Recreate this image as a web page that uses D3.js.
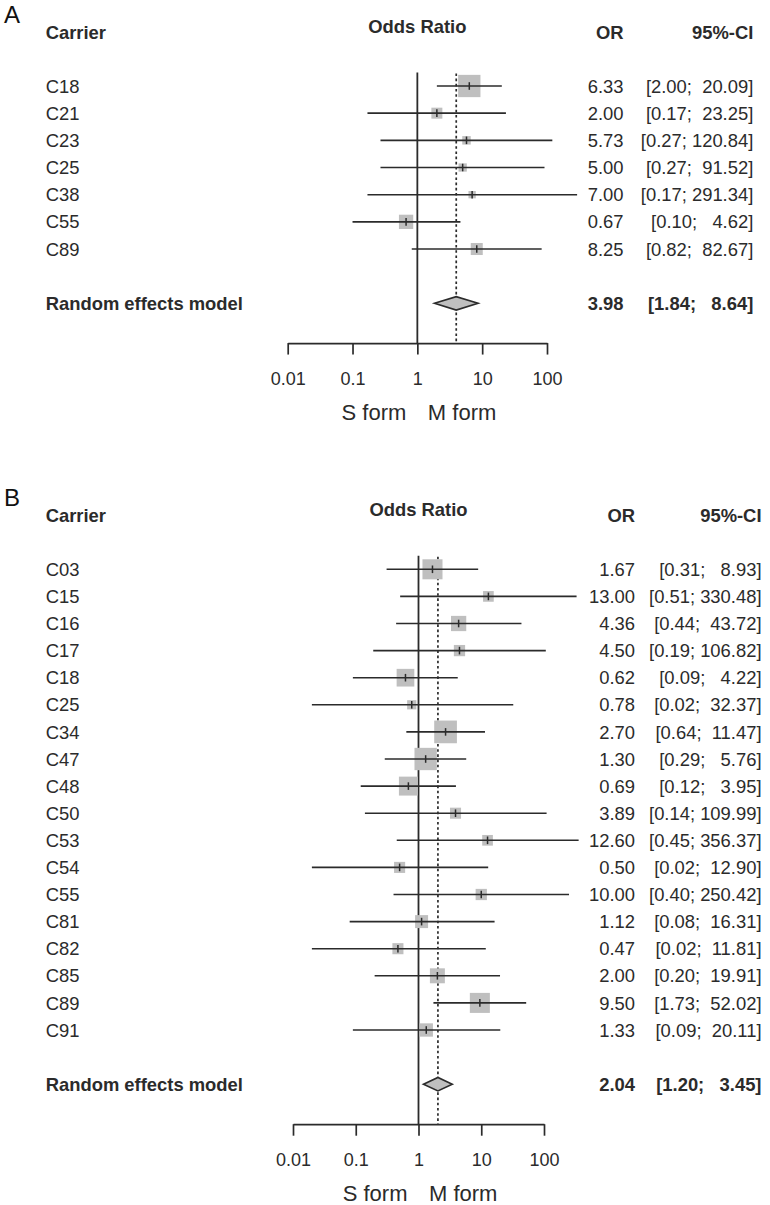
<!DOCTYPE html>
<html>
<head>
<meta charset="utf-8">
<script src="https://cdn.jsdelivr.net/npm/d3@7"></script>
<style>
  html, body { margin: 0; padding: 0; background: #fff; }
  svg { display: block; }
  text { font-family: "Liberation Sans", Arial, sans-serif; fill: #2b2b2b; white-space: pre; }
</style>
</head>
<body>
<svg id="chart" width="770" height="1205"></svg>
<script>
// ---------------- Data ----------------
const tickValues = [0.01, 0.1, 1, 10, 100];
const tickLabels = ["0.01", "0.1", "1", "10", "100"];

// Panel A
const carriersA = ["C18", "C21", "C23", "C25", "C38", "C55", "C89"];
const orA     = [6.33, 2.00, 5.73, 5.00, 7.00, 0.67, 8.25];
const lowerA  = [2.00, 0.17, 0.27, 0.27, 0.17, 0.10, 0.82];
const upperA  = [20.09, 23.25, 120.84, 91.52, 291.34, 4.62, 82.67];
const weightA = [42.9, 10.4, 6.2, 5.9, 4.6, 17.6, 12.4];
const summaryA = { or: 3.98, lower: 1.84, upper: 8.64 };

// Panel B
const carriersB = ["C03", "C15", "C16", "C17", "C18", "C25", "C34", "C47", "C48",
                   "C50", "C53", "C54", "C55", "C81", "C82", "C85", "C89", "C91"];
const orB     = [1.67, 13.00, 4.36, 4.50, 0.62, 0.78, 2.70, 1.30, 0.69,
                 3.89, 12.60, 0.50, 10.00, 1.12, 0.47, 2.00, 9.50, 1.33];
const lowerB  = [0.31, 0.51, 0.44, 0.19, 0.09, 0.02, 0.64, 0.29, 0.12,
                 0.14, 0.45, 0.02, 0.40, 0.08, 0.02, 0.20, 1.73, 0.09];
const upperB  = [8.93, 330.48, 43.72, 106.82, 4.22, 32.37, 11.47, 5.76, 3.95,
                 109.99, 356.37, 12.90, 250.42, 16.31, 11.81, 19.91, 52.02, 20.11];
const weightB = [9.5, 2.7, 5.5, 3.0, 7.4, 2.0, 12.2, 11.8, 8.5,
                 2.9, 2.7, 2.9, 3.0, 4.0, 2.9, 5.3, 9.5, 4.2];
const summaryB = { or: 2.04, lower: 1.20, upper: 3.45 };

const summaryLabel = "Random effects model";
const headers = { label: "Carrier", plot: "Odds Ratio", or: "OR", ci: "95%-CI" };
const sideLabels = ["S form", "M form"];

// ---------------- Layout ----------------
const layoutA = {
  letter: "A", letterY: 22.7,
  headerY: 39, plotHeaderY: 33,
  row0: 86, rowStep: 27.17,
  x0: 287.7, x1: 547,
  axisGap: 39.7,
  labelX: 45.7, orRight: 623.5, ciRight: 753.3,
  maxSide: 22.3
};
const layoutB = {
  letter: "B", letterY: 506,
  headerY: 522.3, plotHeaderY: 516,
  row0: 569.3, rowStep: 27.1,
  x0: 293, x1: 544,
  axisGap: 40,
  labelX: 45.7, orRight: 635, ciRight: 761.5,
  maxSide: 22.7
};

const svg = d3.select("#chart");
const ink = "#2b2b2b";
const boxFill = "#bfbfbf";
const fs = 18.4;

function fmtCI(lo, hi, loLen, hiLen) {
  return "[" + lo.toFixed(2).padStart(loLen, " ") + "; " + hi.toFixed(2).padStart(hiLen, " ") + "]";
}

function drawPanel(L, carriers, ors, lows, ups, weights, summary) {
  const g = svg.append("g");
  const n = carriers.length;
  const x = d3.scaleLog().domain([0.01, 100]).range([L.x0, L.x1]);
  const y = d3.scaleLinear().domain([0, 1]).range([L.row0, L.row0 + L.rowStep]);
  const side = d3.scaleSqrt().domain([0, d3.max(weights)]).range([0, L.maxSide]);
  const ySum = y(n + 1);
  const axisY = ySum + L.axisGap;
  const topY = L.row0 - L.rowStep / 2;

  const rows = carriers.map((c, i) => ({ c, or: ors[i], lo: lows[i], hi: ups[i], w: weights[i], i }));
  const loLen = d3.max(lows.concat([summary.lower]), v => v.toFixed(2).length);
  const hiLen = d3.max(ups.concat([summary.upper]), v => v.toFixed(2).length);

  // Panel letter
  g.append("text").attr("x", 4).attr("y", L.letterY)
    .style("font-size", "24px").style("fill", "#111").text(L.letter);

  // Headers
  g.append("text").attr("x", L.labelX).attr("y", L.headerY)
    .style("font-size", fs + "px").style("font-weight", "bold").text(headers.label);
  g.append("text").attr("x", x(1)).attr("y", L.plotHeaderY).attr("text-anchor", "middle")
    .style("font-size", fs + "px").style("font-weight", "bold").text(headers.plot);
  g.append("text").attr("x", L.orRight).attr("y", L.headerY).attr("text-anchor", "end")
    .style("font-size", fs + "px").style("font-weight", "bold").text(headers.or);
  g.append("text").attr("x", L.ciRight).attr("y", L.headerY).attr("text-anchor", "end")
    .style("font-size", fs + "px").style("font-weight", "bold").text(headers.ci);

  // Reference lines
  g.append("line").attr("x1", x(1)).attr("x2", x(1)).attr("y1", topY).attr("y2", axisY)
    .attr("stroke", ink).attr("stroke-width", 1.8);
  g.append("line").attr("x1", x(summary.or)).attr("x2", x(summary.or)).attr("y1", topY + 1).attr("y2", axisY)
    .attr("stroke", ink).attr("stroke-width", 1.7).attr("stroke-dasharray", "2.6,2.6");

  // Study rows
  const rg = g.selectAll("g.row").data(rows).enter().append("g").attr("class", "row");
  rg.append("rect")
    .attr("x", d => x(d.or) - side(d.w) / 2)
    .attr("y", d => y(d.i) - side(d.w) / 2)
    .attr("width", d => side(d.w)).attr("height", d => side(d.w))
    .attr("fill", boxFill);
  rg.append("line")
    .attr("x1", d => x(d.lo)).attr("x2", d => x(d.hi))
    .attr("y1", d => y(d.i)).attr("y2", d => y(d.i))
    .attr("stroke", ink).attr("stroke-width", 1.6);
  rg.append("line")
    .attr("x1", d => x(d.or)).attr("x2", d => x(d.or))
    .attr("y1", d => y(d.i) - 3.8).attr("y2", d => y(d.i) + 3.8)
    .attr("stroke", ink).attr("stroke-width", 1.5);
  rg.append("text").attr("x", L.labelX).attr("y", d => y(d.i) + 6.6)
    .style("font-size", fs + "px").text(d => d.c);
  rg.append("text").attr("x", L.orRight).attr("y", d => y(d.i) + 6.6).attr("text-anchor", "end")
    .style("font-size", fs + "px").text(d => d.or.toFixed(2));
  rg.append("text").attr("x", L.ciRight).attr("y", d => y(d.i) + 6.6).attr("text-anchor", "end")
    .style("font-size", fs + "px").text(d => fmtCI(d.lo, d.hi, loLen, hiLen));

  // Summary
  const dh = 6.7;
  g.append("polygon")
    .attr("points", [
      [x(summary.lower), ySum], [x(summary.or), ySum - dh],
      [x(summary.upper), ySum], [x(summary.or), ySum + dh]
    ].map(p => p.join(",")).join(" "))
    .attr("fill", boxFill).attr("stroke", ink).attr("stroke-width", 1.6);
  g.append("text").attr("x", L.labelX).attr("y", ySum + 6.6)
    .style("font-size", fs + "px").style("font-weight", "bold").text(summaryLabel);
  g.append("text").attr("x", L.orRight).attr("y", ySum + 6.6).attr("text-anchor", "end")
    .style("font-size", fs + "px").style("font-weight", "bold").text(summary.or.toFixed(2));
  g.append("text").attr("x", L.ciRight).attr("y", ySum + 6.6).attr("text-anchor", "end")
    .style("font-size", fs + "px").style("font-weight", "bold")
    .text(fmtCI(summary.lower, summary.upper, loLen, hiLen));

  // Axis
  const axis = d3.axisBottom(x).tickValues(tickValues)
    .tickFormat((d, i) => tickLabels[i]).tickSize(11.5).tickSizeOuter(0);
  const ag = g.append("g").attr("transform", `translate(0,${axisY})`).call(axis);
  ag.select(".domain").attr("stroke", ink).attr("stroke-width", 1.7);
  ag.selectAll(".tick line").attr("stroke", ink).attr("stroke-width", 1.7);
  ag.selectAll(".tick text").attr("y", 42).attr("dy", 0)
    .style("font-size", "18px").style("font-family", "'Liberation Sans', Arial, sans-serif")
    .attr("fill", ink);

  // Side labels
  g.append("text").attr("x", x(1) - 11).attr("y", axisY + 77).attr("text-anchor", "end")
    .style("font-size", "22px").text(sideLabels[0]);
  g.append("text").attr("x", x(1) + 10.5).attr("y", axisY + 77).attr("text-anchor", "start")
    .style("font-size", "22px").text(sideLabels[1]);
}

drawPanel(layoutA, carriersA, orA, lowerA, upperA, weightA, summaryA);
drawPanel(layoutB, carriersB, orB, lowerB, upperB, weightB, summaryB);
</script>
</body>
</html>
